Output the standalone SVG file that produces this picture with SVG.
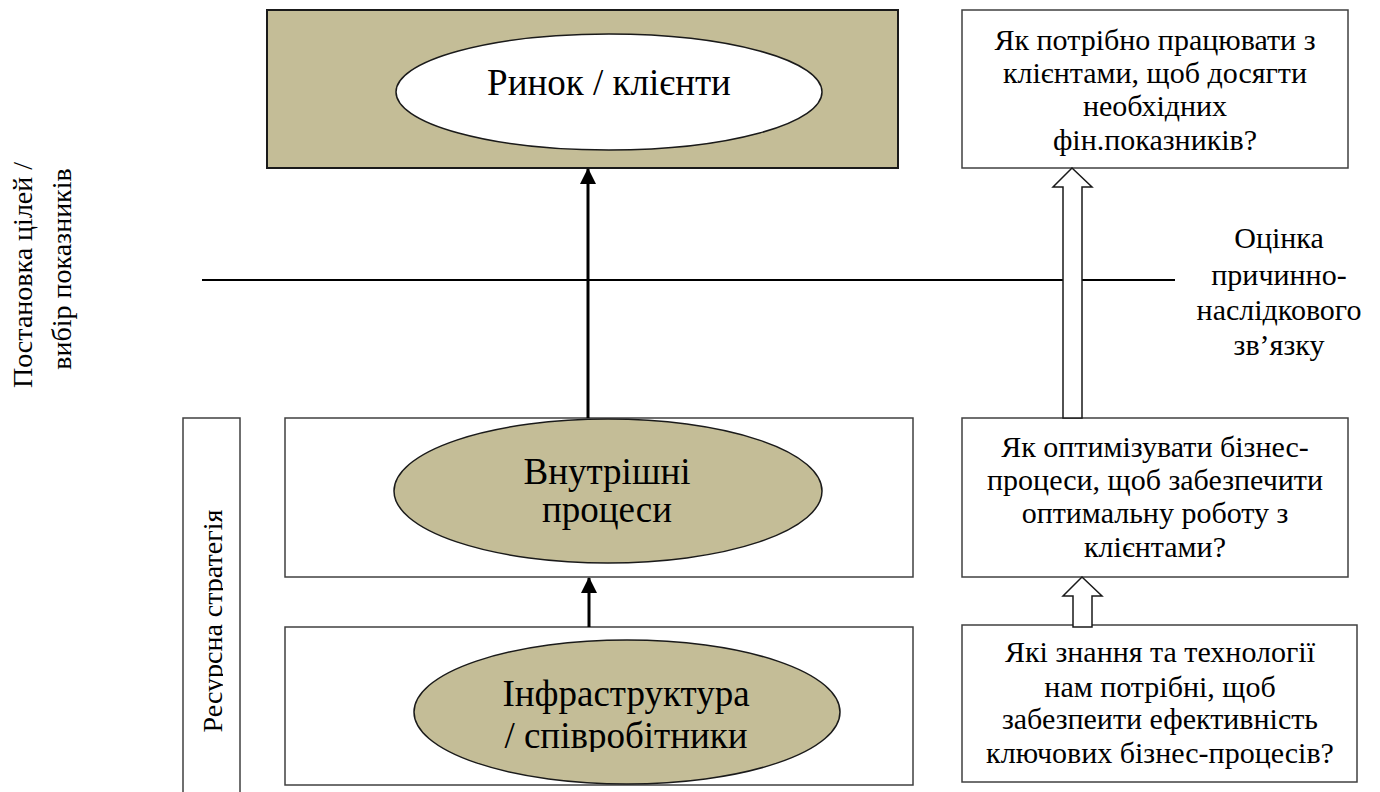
<svg xmlns="http://www.w3.org/2000/svg" width="1380" height="792" viewBox="0 0 1380 792">
<style>
.big{font-size:37px;text-anchor:middle;fill:#000}
.q{font-size:30px;text-anchor:middle;fill:#000}
.side{font-size:28px;text-anchor:middle;fill:#000}
.box{fill:#fff;stroke:#404040;stroke-width:1.5}
.tan{fill:#C4BD97;stroke:#1a1a1a;stroke-width:2}
.ell{stroke:#1a1a1a;stroke-width:1.5}
.hollow{fill:#fff;stroke:#1a1a1a;stroke-width:1.5;stroke-linejoin:miter}
.conn{stroke:#000;stroke-width:3;fill:none}
</style>
<defs>
<marker id="ah" markerWidth="16" markerHeight="16" viewBox="0 0 16 16" refX="15" refY="8" orient="auto" markerUnits="userSpaceOnUse">
<path d="M0,0 L16,8 L0,16 z" fill="#000"/>
</marker>
<clipPath id="clipRes"><rect x="0" y="400" width="223" height="392"/></clipPath>
<clipPath id="clipInfra"><rect x="380" y="600" width="500" height="152"/></clipPath>
</defs>

<g id="separator">
<line x1="202" y1="280" x2="1175" y2="280" stroke="#000" stroke-width="2"/>
</g>

<g id="label-left">
<text class="side" font-family="Liberation Serif" style="font-family:'Liberation Serif',serif" transform="translate(32,275) rotate(-90)">Постановка цілей /</text>
<text class="side" font-family="Liberation Serif" style="font-family:'Liberation Serif',serif" transform="translate(71,269) rotate(-90)">вибір показників</text>
</g>

<g id="resource-strategy">
<rect x="183" y="418" width="57" height="390" class="box" stroke="#000"/>
<g clip-path="url(#clipRes)">
<text class="side" font-family="Liberation Serif" style="font-family:'Liberation Serif',serif" transform="translate(222,621) rotate(-90)">Ресурсна стратегія</text>
</g>
</g>

<g id="market">
<rect x="267" y="10" width="631" height="158" class="tan"/>
<ellipse cx="609" cy="92" rx="213" ry="58" fill="#fff" class="ell"/>
<text class="big" font-family="Liberation Serif" style="font-family:'Liberation Serif',serif" x="609" y="95">Ринок / клієнти</text>
</g>

<g id="internal">
<rect x="285" y="418" width="628" height="159" class="box"/>
<ellipse cx="608" cy="491" rx="214" ry="72" fill="#C4BD97" class="ell"/>
<text class="big" font-family="Liberation Serif" style="font-family:'Liberation Serif',serif" x="607" y="484">Внутрішні</text>
<text class="big" font-family="Liberation Serif" style="font-family:'Liberation Serif',serif" x="607" y="522">процеси</text>
</g>

<g id="infrastructure">
<rect x="285" y="627" width="628" height="158" class="box"/>
<ellipse cx="627" cy="712" rx="213" ry="72" fill="#C4BD97" class="ell"/>
<g clip-path="url(#clipInfra)">
<text class="big" font-family="Liberation Serif" style="font-family:'Liberation Serif',serif" x="626" y="706">Інфраструктура</text>
<text class="big" font-family="Liberation Serif" style="font-family:'Liberation Serif',serif" x="626" y="748">/ співробітники</text>
</g>
</g>

<g id="q-market">
<rect x="962" y="10" width="386" height="158" class="box"/>
<text class="q" font-family="Liberation Serif" style="font-family:'Liberation Serif',serif" x="1155" y="50">Як потрібно працювати з</text>
<text class="q" font-family="Liberation Serif" style="font-family:'Liberation Serif',serif" x="1155" y="83">клієнтами, щоб досягти</text>
<text class="q" font-family="Liberation Serif" style="font-family:'Liberation Serif',serif" x="1155" y="116">необхідних</text>
<text class="q" font-family="Liberation Serif" style="font-family:'Liberation Serif',serif" x="1155" y="150">фін.показників?</text>
</g>

<g id="causal-label">
<text class="q" font-family="Liberation Serif" style="font-family:'Liberation Serif',serif" x="1279" y="248">Оцінка</text>
<text class="q" font-family="Liberation Serif" style="font-family:'Liberation Serif',serif" x="1279" y="285">причинно-</text>
<text class="q" font-family="Liberation Serif" style="font-family:'Liberation Serif',serif" x="1279" y="320">наслідкового</text>
<text class="q" font-family="Liberation Serif" style="font-family:'Liberation Serif',serif" x="1279" y="355">зв’язку</text>
</g>

<g id="q-processes">
<rect x="962" y="418" width="386" height="159" class="box"/>
<text class="q" font-family="Liberation Serif" style="font-family:'Liberation Serif',serif" x="1155" y="457">Як оптимізувати бізнес-</text>
<text class="q" font-family="Liberation Serif" style="font-family:'Liberation Serif',serif" x="1155" y="490">процеси, щоб забезпечити</text>
<text class="q" font-family="Liberation Serif" style="font-family:'Liberation Serif',serif" x="1155" y="523">оптимальну роботу з</text>
<text class="q" font-family="Liberation Serif" style="font-family:'Liberation Serif',serif" x="1155" y="557">клієнтами?</text>
</g>

<g id="q-knowledge">
<rect x="962" y="625" width="395" height="157" class="box"/>
<text class="q" font-family="Liberation Serif" style="font-family:'Liberation Serif',serif" x="1160" y="662">Які знання та технології</text>
<text class="q" font-family="Liberation Serif" style="font-family:'Liberation Serif',serif" x="1160" y="697">нам потрібні, щоб</text>
<text class="q" font-family="Liberation Serif" style="font-family:'Liberation Serif',serif" x="1160" y="729">забезпеити ефективність</text>
<text class="q" font-family="Liberation Serif" style="font-family:'Liberation Serif',serif" x="1160" y="763">ключових бізнес-процесів?</text>
</g>

<g id="connectors">
<line x1="588" y1="418" x2="588" y2="169" class="conn" marker-end="url(#ah)"/>
<line x1="589" y1="627" x2="589" y2="578" class="conn" marker-end="url(#ah)"/>
<polygon class="hollow" points="1072,168 1092,187 1082,187 1082,418 1063,418 1063,187 1053,187"/>
<polygon class="hollow" points="1082,577 1102,596 1092,596 1092,627 1073,627 1073,596 1063,596"/>
</g>
</svg>
